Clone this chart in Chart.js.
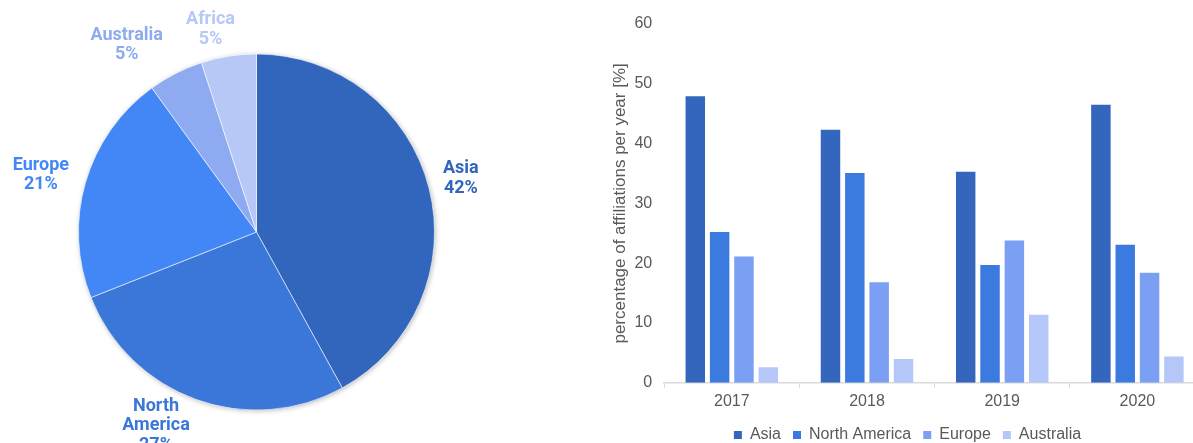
<!DOCTYPE html>
<html>
<head>
<meta charset="utf-8">
<script src="https://cdn.jsdelivr.net/npm/chart.js@4.4.1/dist/chart.umd.min.js"></script>
<style>
  html, body { margin: 0; padding: 0; background: #ffffff; overflow: hidden; width: 1193px; height: 443px; }
  #pieWrap { position: absolute; left: 0; top: 0; }
  #barWrap { position: absolute; left: 590px; top: 0; }
</style>
</head>
<body>
<div id="pieWrap"><canvas id="pieChart" width="513" height="443"></canvas></div>
<div id="barWrap"><canvas id="barChart" width="640" height="453"></canvas></div>
<script>
// Share of affiliations by region (all years)
const regions = ['Asia', 'North America', 'Europe', 'Australia', 'Africa'];
const regionShares = [42, 27, 21, 5, 5];
const regionColors = ['#3266bd', '#3a77d8', '#4287f5', '#8eabf2', '#b7c8f6'];

// Percentage of affiliations per year
const years = ['2017', '2018', '2019', '2020'];
const asiaPct = [47.9, 42.3, 35.3, 46.5];
const northAmericaPct = [25.2, 35.1, 19.7, 23.1];
const europePct = [21.1, 16.8, 23.8, 18.4];
const australiaPct = [2.6, 4.0, 11.4, 4.4];
const yTickMax = 60;
const yTickStep = 10;

const textGray = '#595959';
const axisGray = '#d9d9d9';

// Soft drop shadow under the whole pie
const pieShadow = {
  id: 'pieShadow',
  beforeDatasetsDraw(chart) {
    const arc = chart.getDatasetMeta(0).data[0];
    if (!arc) return;
    const { x, y, outerRadius } = arc.getProps(['x', 'y', 'outerRadius'], true);
    const ctx = chart.ctx;
    ctx.save();
    ctx.shadowColor = 'rgba(0,0,0,0.28)';
    ctx.shadowBlur = 5;
    ctx.shadowOffsetX = 1;
    ctx.shadowOffsetY = 1;
    ctx.fillStyle = '#ffffff';
    ctx.beginPath();
    ctx.arc(x, y, outerRadius, 0, Math.PI * 2);
    ctx.fill();
    ctx.restore();
  }
};

// Region name + percentage, placed outside each slice
const pieLabels = {
  id: 'pieLabels',
  afterDatasetsDraw(chart, args, opts) {
    const ctx = chart.ctx;
    const meta = chart.getDatasetMeta(0);
    const ds = chart.data.datasets[0];
    const total = ds.data.reduce((a, b) => a + b, 0);
    ctx.save();
    ctx.font = `bold ${opts.size}px Roboto, "Liberation Sans", sans-serif`;
    ctx.textAlign = 'center';
    ctx.textBaseline = 'middle';
    meta.data.forEach((arc, i) => {
      const p = arc.getProps(['x', 'y', 'startAngle', 'endAngle', 'outerRadius'], true);
      const mid = (p.startAngle + p.endAngle) / 2;
      const d = p.outerRadius + opts.gap;
      const nudge = opts.nudges[i] || [0, 0];
      const cx = p.x + Math.cos(mid) * d + nudge[0];
      const cy = p.y + Math.sin(mid) * d + nudge[1];
      const lines = chart.data.labels[i].split(' ');
      lines.push(Math.round(ds.data[i] / total * 100) + '%');
      const top = cy - (lines.length - 1) * opts.lineHeight / 2;
      ctx.fillStyle = ds.backgroundColor[i];
      lines.forEach((t, k) => ctx.fillText(t, cx, top + k * opts.lineHeight));
    });
    ctx.restore();
  }
};

new Chart(document.getElementById('pieChart'), {
  type: 'pie',
  data: {
    labels: regions,
    datasets: [{
      data: regionShares,
      backgroundColor: regionColors,
      borderColor: 'rgba(255,255,255,0.55)',
      borderWidth: 1
    }]
  },
  options: {
    responsive: false,
    animation: false,
    layout: { padding: { top: 53, bottom: 32, left: 78, right: 78 } },
    plugins: {
      legend: { display: false },
      tooltip: { enabled: false },
      pieLabels: {
        size: 18,
        lineHeight: 19.5,
        gap: 33,
        nudges: [[0, -1], [-29, -5], [-13, 2], [-34, 1], [-13, 6]]
      }
    }
  },
  plugins: [pieShadow, pieLabels]
});

const barColors = ['#3366bc', '#3b7be0', '#7b9ff2', '#b5c7f8'];
const barSeries = [
  ['Asia', asiaPct],
  ['North America', northAmericaPct],
  ['Europe', europePct],
  ['Australia', australiaPct]
];

new Chart(document.getElementById('barChart'), {
  type: 'bar',
  data: {
    labels: years,
    datasets: barSeries.map(([name, values], i) => ({
      label: name,
      data: values,
      backgroundColor: barColors[i],
      borderWidth: 0,
      categoryPercentage: 0.72,
      barPercentage: 0.8
    }))
  },
  options: {
    responsive: false,
    animation: false,
    layout: { padding: { left: 20, right: 25, top: 24, bottom: 0 } },
    scales: {
      x: {
        grid: { display: true, drawOnChartArea: false, drawTicks: true, tickLength: 5, color: axisGray, lineWidth: 1 },
        border: { display: true, color: axisGray, width: 1.5 },
        ticks: { color: textGray, font: { family: '"Liberation Sans", Arial, sans-serif', size: 16 }, padding: 4 }
      },
      y: {
        min: 0,
        max: yTickMax,
        grid: { display: false, drawTicks: false },
        border: { display: false },
        ticks: { stepSize: yTickStep, color: textGray, font: { family: '"Liberation Sans", Arial, sans-serif', size: 16 }, padding: 12 },
        title: {
          display: true,
          text: 'percentage of affiliations per year [%]',
          color: textGray,
          font: { family: '"Liberation Sans", Arial, sans-serif', size: 17 },
          padding: { top: 0, bottom: -8 }
        }
      }
    },
    plugins: {
      tooltip: { enabled: false },
      legend: {
        position: 'bottom',
        labels: {
          boxWidth: 8,
          boxHeight: 8,
          color: textGray,
          font: { family: '"Liberation Sans", Arial, sans-serif', size: 16 },
          padding: 12
        }
      }
    }
  }
});
</script>
</body>
</html>
